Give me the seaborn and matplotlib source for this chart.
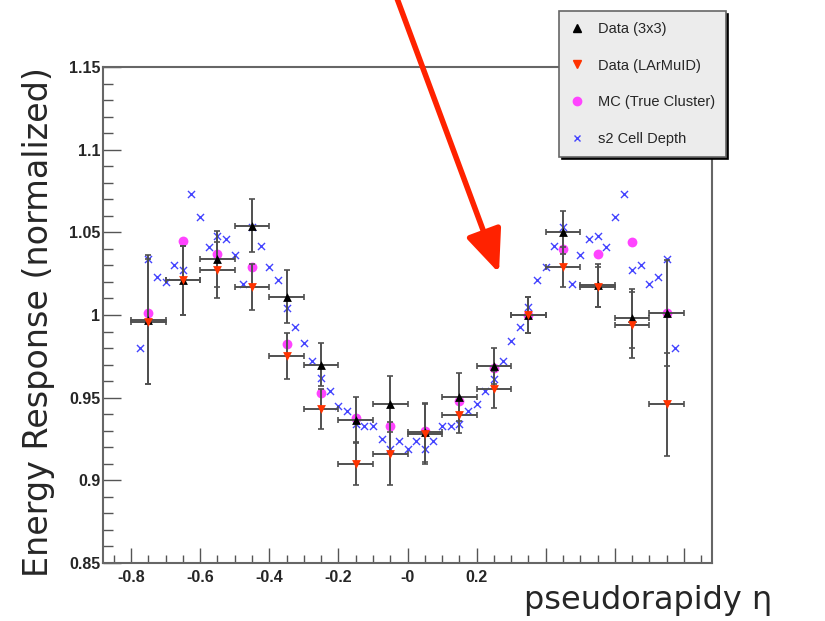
import numpy as np
import pandas as pd
import matplotlib
matplotlib.use('Agg')
import matplotlib.pyplot as plt
from matplotlib.lines import Line2D
from matplotlib.patches import Rectangle
from matplotlib.ticker import MultipleLocator, FixedLocator, FixedFormatter
import seaborn as sns

# ========== data ==========
eta_bins = [-0.75, -0.65, -0.55, -0.45, -0.35, -0.25, -0.15, -0.05,
            0.05, 0.15, 0.25, 0.35, 0.45, 0.55, 0.65, 0.75]

data_3x3 = [0.997, 1.021, 1.034, 1.054, 1.011, 0.970, 0.9365, 0.946,
            0.929, 0.9505, 0.969, 1.000, 1.050, 1.018, 0.998, 1.001]
err_3x3 = [0.039, 0.021, 0.017, 0.016, 0.016, 0.013, 0.014, 0.017,
           0.018, 0.0145, 0.011, 0.011, 0.013, 0.013, 0.018, 0.032]

data_larmuid = [0.996, 1.021, 1.027, 1.017, 0.975, 0.943, 0.910, 0.916,
                0.928, 0.9395, 0.955, 1.000, 1.029, 1.017, 0.994, 0.946]
err_larmuid = [0.038, 0.021, 0.017, 0.014, 0.014, 0.012, 0.013, 0.019,
               0.018, 0.011, 0.011, 0.011, 0.012, 0.012, 0.020, 0.031]

mc_true = [1.001, 1.045, 1.037, 1.029, 0.9825, 0.953, 0.938, 0.933,
           0.930, 0.948, 0.968, 1.000, 1.040, 1.037, 1.044, 1.001]

eta_fine = [-0.775, -0.750, -0.725, -0.700, -0.675, -0.650, -0.625, -0.600,
            -0.575, -0.550, -0.525, -0.500, -0.475, -0.450, -0.425, -0.400,
            -0.375, -0.350, -0.325, -0.300, -0.275, -0.250, -0.225, -0.200,
            -0.175, -0.150, -0.125, -0.100, -0.075, -0.050, -0.025, 0.000,
            0.025, 0.050, 0.075, 0.100, 0.125, 0.150, 0.175, 0.200,
            0.225, 0.250, 0.275, 0.300, 0.325, 0.350, 0.375, 0.400,
            0.425, 0.450, 0.475, 0.500, 0.525, 0.550, 0.575, 0.600,
            0.625, 0.650, 0.675, 0.700, 0.725, 0.750, 0.775]
s2_depth = [0.980, 1.034, 1.023, 1.020, 1.030, 1.027, 1.073, 1.059,
            1.041, 1.048, 1.046, 1.036, 1.019, 1.053, 1.042, 1.029,
            1.021, 1.004, 0.993, 0.983, 0.972, 0.962, 0.954, 0.945,
            0.942, 0.934, 0.933, 0.933, 0.925, 0.919, 0.924, 0.919,
            0.924, 0.919, 0.924, 0.933, 0.933, 0.934, 0.942, 0.946,
            0.954, 0.961, 0.972, 0.984, 0.993, 1.005, 1.021, 1.029,
            1.042, 1.053, 1.019, 1.036, 1.046, 1.048, 1.041, 1.059,
            1.073, 1.027, 1.030, 1.019, 1.023, 1.034, 0.980]

bin_halfwidth = 0.05
legend_labels = ['Data (3x3)', 'Data (LArMuID)', 'MC (True Cluster)', 's2 Cell Depth']
x_ticks = [-0.8, -0.6, -0.4, -0.2, 0.0, 0.2, 0.4, 0.6, 0.8]
x_tick_labels = ['-0.8', '-0.6', '-0.4', '-0.2', '-0', '0.2', '', '', '']
y_ticks = [0.85, 0.9, 0.95, 1.0, 1.05, 1.1, 1.15]
y_tick_labels = ['0.85', '0.9', '0.95', '1', '1.05', '1.1', '1.15']

df_bins = pd.DataFrame({'eta': eta_bins, 'd3x3': data_3x3, 'e3x3': err_3x3,
                        'dlar': data_larmuid, 'elar': err_larmuid, 'mc': mc_true})
df_fine = pd.DataFrame({'eta': eta_fine, 's2': s2_depth})

# ========== style ==========
sns.set_style('white')
plt.rcParams['font.family'] = ['Liberation Sans', 'DejaVu Sans']

W, H = 825, 621
fig = plt.figure(figsize=(8.25, 6.21), dpi=100)
ax = fig.add_axes([103 / W, 1 - 563 / H, (712 - 103) / W, (563 - 67) / H])

c_black = 'black'
c_red = '#ff3300'
c_mag = '#ff44ff'
c_blue = '#4444ff'
c_err = '#505050'

# s2 cell depth
sns.scatterplot(data=df_fine, x='eta', y='s2', marker='x', color=c_blue,
                s=26, linewidth=1.0, ax=ax, zorder=2, legend=False)

# MC true cluster
sns.scatterplot(data=df_bins, x='eta', y='mc', marker='o', color=c_mag,
                s=50, linewidth=0, ax=ax, zorder=3, legend=False)

# error bars
ax.errorbar(df_bins['eta'], df_bins['d3x3'], yerr=df_bins['e3x3'], xerr=bin_halfwidth,
            fmt='none', ecolor=c_err, elinewidth=1.4, capsize=2.2, capthick=1.2, zorder=4)
ax.errorbar(df_bins['eta'], df_bins['dlar'], yerr=df_bins['elar'], xerr=bin_halfwidth,
            fmt='none', ecolor=c_err, elinewidth=1.4, capsize=2.2, capthick=1.2, zorder=4)

# data points
sns.scatterplot(data=df_bins, x='eta', y='d3x3', marker='^', color=c_black,
                s=40, linewidth=0, ax=ax, zorder=5, legend=False)
sns.scatterplot(data=df_bins, x='eta', y='dlar', marker='v', color=c_red,
                s=40, linewidth=0, ax=ax, zorder=6, legend=False)

ax.set_xlim(-0.881, 0.881)
ax.set_ylim(0.85, 1.15)
ax.set_xlabel('')
ax.set_ylabel('')

ax.xaxis.set_major_locator(FixedLocator(x_ticks))
ax.xaxis.set_major_formatter(FixedFormatter(x_tick_labels))
ax.xaxis.set_minor_locator(MultipleLocator(0.05))
ax.yaxis.set_major_locator(FixedLocator(y_ticks))
ax.yaxis.set_major_formatter(FixedFormatter(y_tick_labels))
ax.yaxis.set_minor_locator(MultipleLocator(0.01))

ax.tick_params(axis='both', which='both', direction='in', color='#555555', width=1,
               bottom=True, left=True, top=False, right=False)
ax.tick_params(axis='x', which='major', length=11, pad=5, labelsize=11.5)
ax.tick_params(axis='x', which='minor', length=6)
ax.tick_params(axis='y', which='major', length=13, pad=2, labelsize=11.5)
ax.tick_params(axis='y', which='minor', length=7)
for lab in ax.get_xticklabels() + ax.get_yticklabels():
    lab.set_fontweight('bold')

for sp in ax.spines.values():
    sp.set_color('#666666')
    sp.set_linewidth(1.5)

# white strip that clips the tick labels on the left
fig.add_artist(Rectangle((0, 0), 70 / W, 1, transform=fig.transFigure,
                         facecolor='white', edgecolor='none', zorder=1))

# axis titles
fig.text(39 / W, 1 - 322 / H, 'Energy Response (normalized)', rotation=90,
         ha='center', va='center', fontsize=24, family=['DejaVu Sans'], zorder=3)
fig.text(648 / W, 1 - 600 / H, 'pseudorapidy \u03b7', ha='center', va='center',
         fontsize=23, family=['DejaVu Sans'], zorder=3)

# legend
handles = [
    Line2D([], [], marker='^', color=c_black, ls='none', markersize=6),
    Line2D([], [], marker='v', color=c_red, ls='none', markersize=6),
    Line2D([], [], marker='o', color=c_mag, ls='none', markersize=6),
    Line2D([], [], marker='x', color=c_blue, ls='none', markersize=5, markeredgewidth=1),
]
leg = fig.legend(handles, legend_labels, loc='upper left',
                 bbox_to_anchor=(559 / W, 1 - 11 / H), fontsize=10.5,
                 frameon=True, fancybox=False, shadow={'color': 'black', 'alpha': 1},
                 facecolor='#ececec', edgecolor='#666666', framealpha=1,
                 labelspacing=1.55, handlelength=1.0, handletextpad=0.9,
                 borderpad=0.75, borderaxespad=0)
leg.get_frame().set_linewidth(1.2)
leg.set_zorder(5)

# red arrow
ax.annotate('', xy=(499 / W, 1 - 273 / H), xycoords='figure fraction',
            xytext=(393 / W, 1.02), textcoords='figure fraction',
            arrowprops=dict(arrowstyle='-|>,head_length=1.3,head_width=0.55',
                            color='#ff2200', lw=4, mutation_scale=20,
                            shrinkA=0, shrinkB=0),
            annotation_clip=False, zorder=10)

plt.savefig('out.png', dpi=100)
